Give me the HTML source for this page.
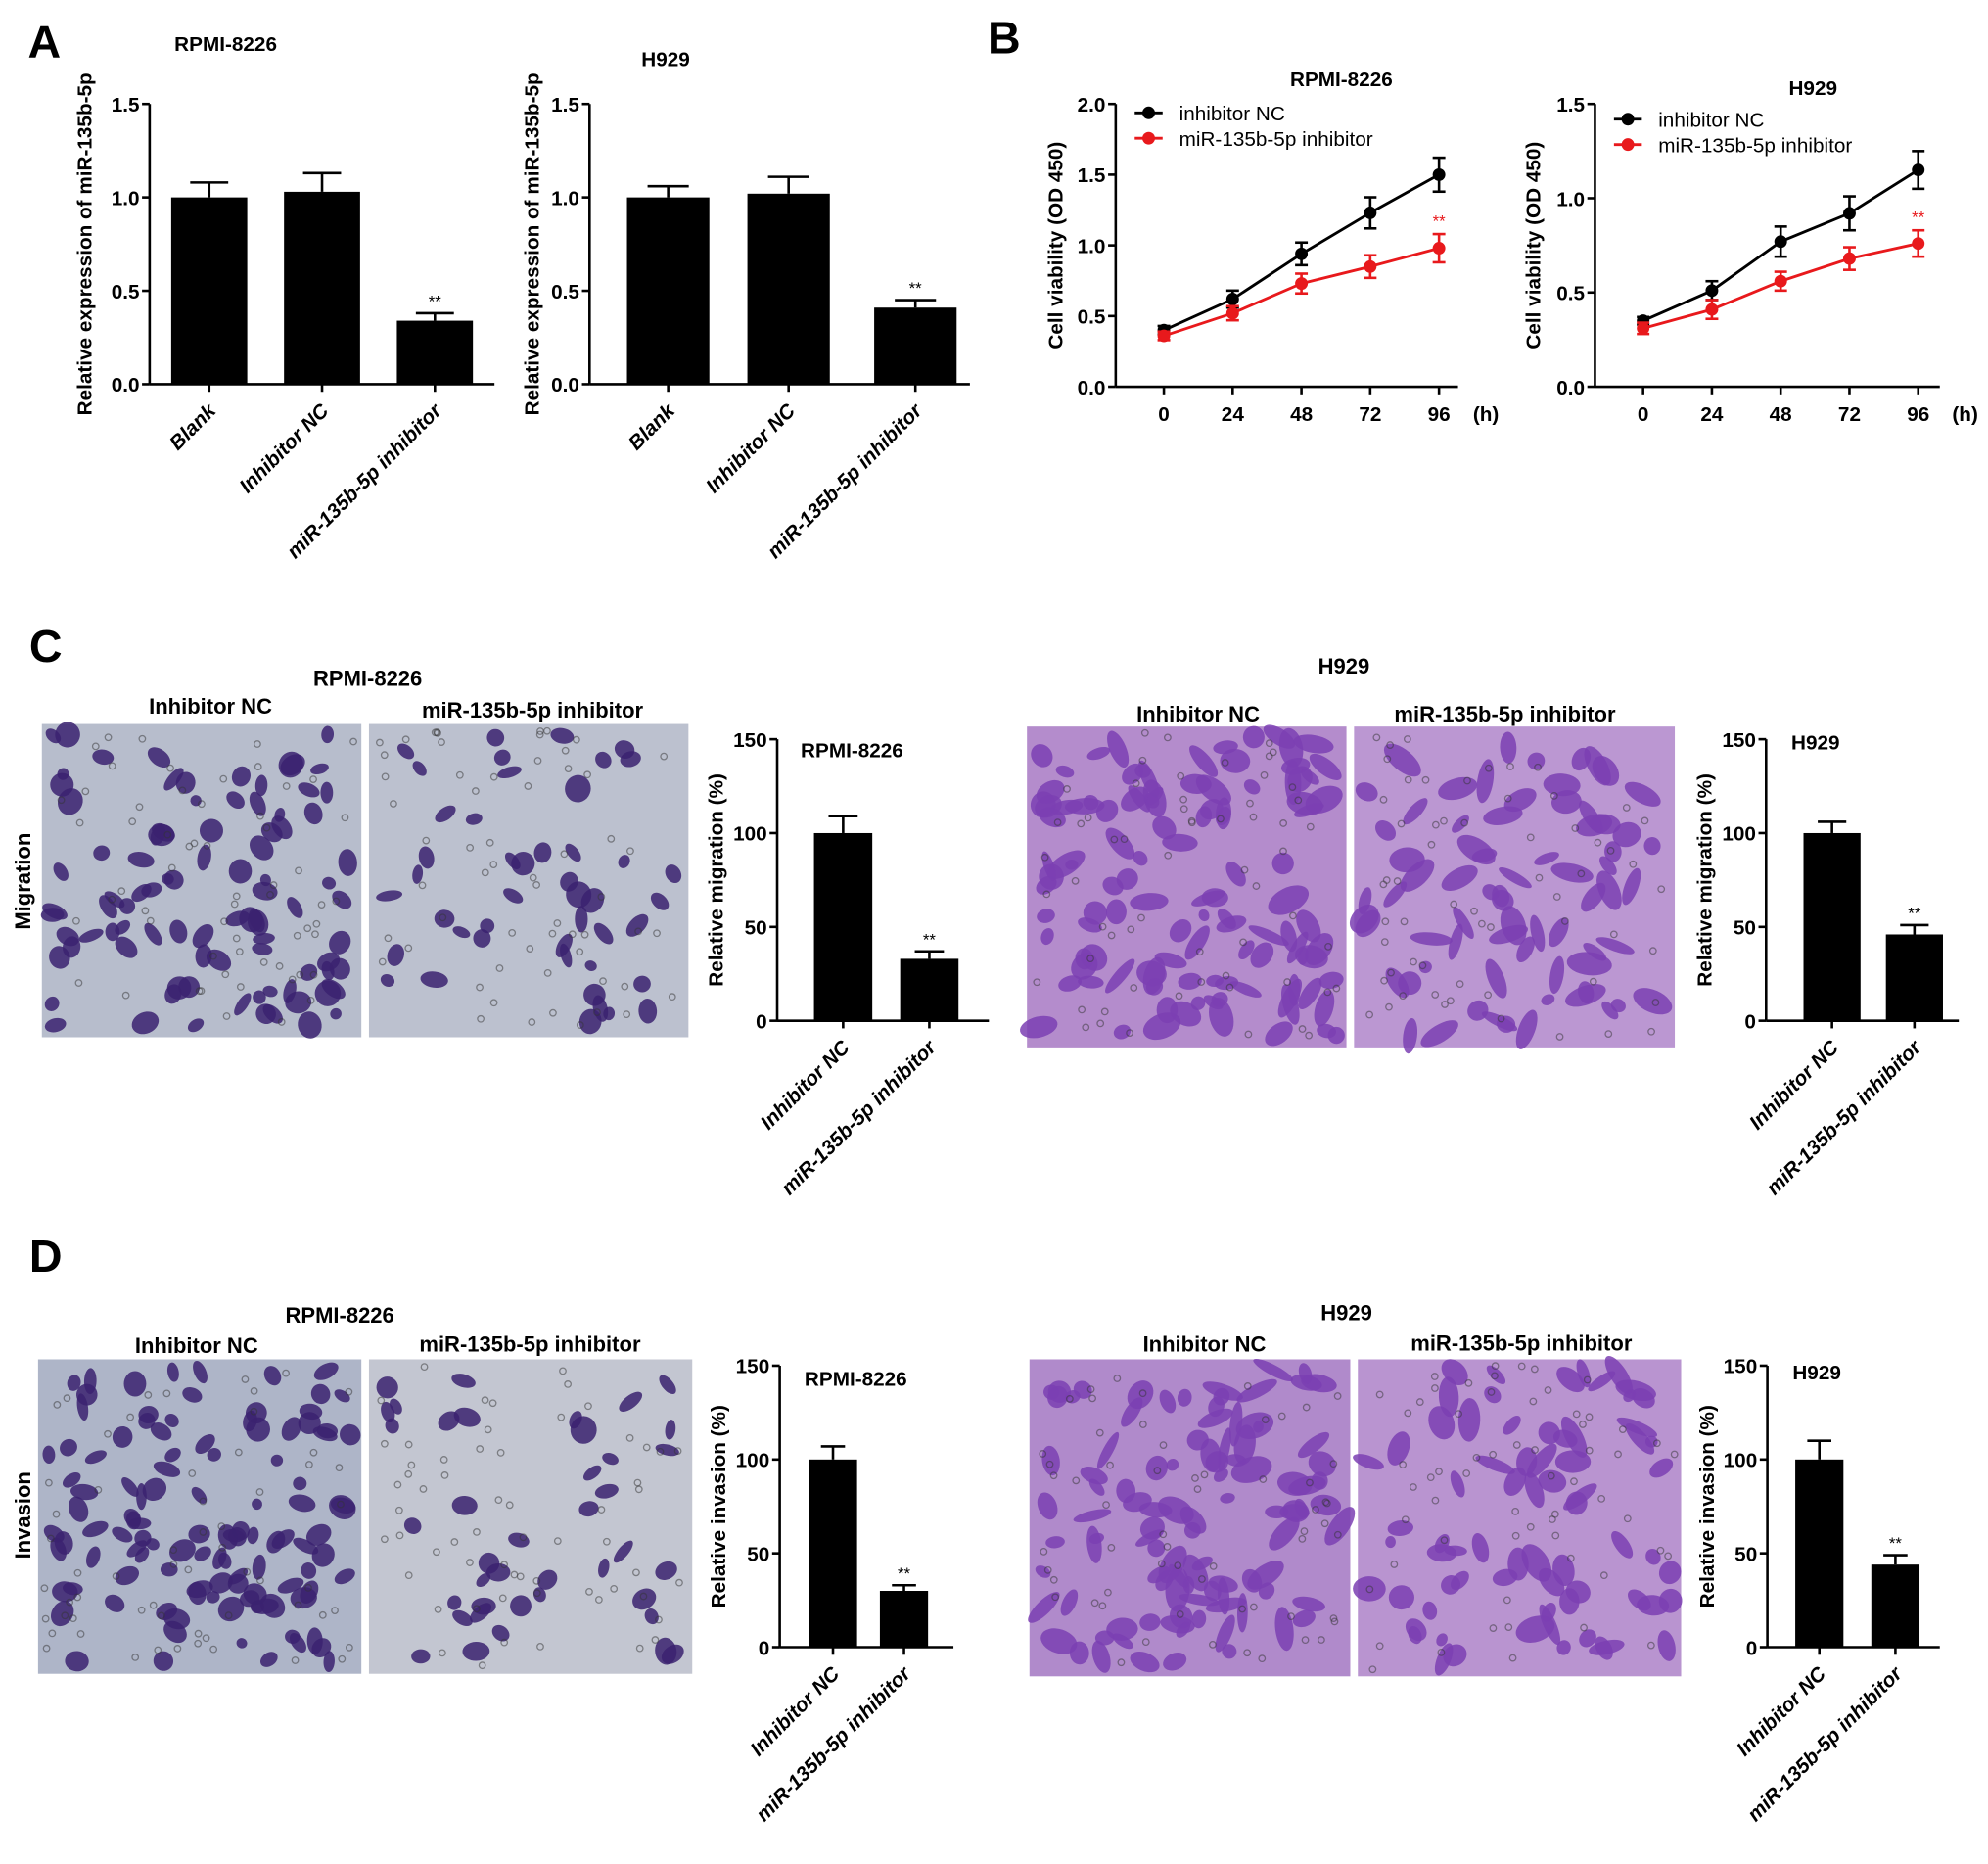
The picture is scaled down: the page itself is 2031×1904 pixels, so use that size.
<!DOCTYPE html>
<html><head><meta charset="utf-8"><style>
html,body{margin:0;padding:0;background:#fff;}
svg{display:block;font-family:"Liberation Sans",Arial,sans-serif;}
</style></head><body>
<svg id="fig" width="2031" height="1904" viewBox="0 0 1568 1470" xmlns="http://www.w3.org/2000/svg">
<g id="root"></g>
</svg>
<script>
// ---- data ----
const catsA = ["Blank","Inhibitor NC","miR-135b-5p inhibitor"];
const rpmiExpr = [1.0, 1.03, 0.34];
const rpmiExprErr = [0.08, 0.10, 0.04];
const h929Expr = [1.0, 1.02, 0.41];
const h929ExprErr = [0.06, 0.09, 0.04];
const ticksA = [0, 0.5, 1.0, 1.5];

const hours = [0, 24, 48, 72, 96];
const rpmiNC = [0.40, 0.62, 0.94, 1.23, 1.50];
const rpmiNCErr = [0.03, 0.06, 0.08, 0.11, 0.12];
const rpmiInh = [0.36, 0.52, 0.73, 0.85, 0.98];
const rpmiInhErr = [0.03, 0.05, 0.07, 0.08, 0.10];
const h929NC = [0.35, 0.51, 0.77, 0.92, 1.15];
const h929NCErr = [0.02, 0.05, 0.08, 0.09, 0.10];
const h929Inh = [0.31, 0.41, 0.56, 0.68, 0.76];
const h929InhErr = [0.03, 0.05, 0.05, 0.06, 0.07];
const ticksB1 = [0, 0.5, 1.0, 1.5, 2.0];
const ticksB2 = [0, 0.5, 1.0, 1.5];

const catsCD = ["Inhibitor NC","miR-135b-5p inhibitor"];
const migRpmi = [100, 33]; const migRpmiErr = [9, 4];
const migH929 = [100, 46]; const migH929Err = [6, 5];
const invRpmi = [100, 30]; const invRpmiErr = [7, 3];
const invH929 = [100, 44]; const invH929Err = [10, 5];
const ticksCD = [0, 50, 100, 150];

const NS = "http://www.w3.org/2000/svg";
const root = document.getElementById("root");
function mk(tag, attrs, parent, txt){
  const e = document.createElementNS(NS, tag);
  for (const k in attrs) e.setAttribute(k, attrs[k]);
  if (txt !== undefined) e.textContent = txt;
  (parent || root).appendChild(e);
  return e;
}
function txt(x,y,s,size,opts,parent){
  opts = opts||{};
  const t = mk("text",{x:x,y:y,"font-size":size,"font-weight":opts.w||"bold","text-anchor":opts.a||"middle",fill:opts.fill||"#000"},parent,s);
  if(opts.rot!==undefined) t.setAttribute("transform","rotate("+opts.rot+" "+x+" "+y+")");
  if(opts.italic) t.setAttribute("font-style","italic");
  
  
  return t;
}

// bar chart
function barChart(cfg){
  const g = mk("g",{});
  
  
  const yS = v => cfg.y0 - (v - 0) / (cfg.ymax) * (cfg.y0 - cfg.yTop);
  // y axis
  const ax = mk("line",{x1:cfg.ax,y1:yS(cfg.ymax),x2:cfg.ax,y2:cfg.y0,stroke:"#000","stroke-width":2},g);
   
  const xa = mk("line",{x1:cfg.ax,y1:cfg.y0,x2:cfg.axEnd,y2:cfg.y0,stroke:"#000","stroke-width":2},g);
   
  cfg.ticks.forEach(t=>{
    const y = yS(t);
    mk("line",{x1:cfg.ax-6,y1:y,x2:cfg.ax,y2:y,stroke:"#000","stroke-width":2},g);
    const tl = txt(cfg.ax-8,y+6,cfg.tickFmt(t),16,{a:"end",name:"y-tick-label"},g);
  });
  txt(cfg.ylx,(cfg.y0+yS(cfg.ymax))/2,cfg.ylabel,16,{rot:-90,name:"y-axis-title"},g);
  cfg.vals.forEach((v,i)=>{
    const cx = cfg.xs[i], w = cfg.bw;
    const r = mk("rect",{x:cx-w/2,y:yS(v),width:w,height:cfg.y0-yS(v),fill:"#000"},g);
     
    const ey = yS(v+cfg.err[i]);
    mk("line",{x1:cx,y1:yS(v),x2:cx,y2:ey,stroke:"#000","stroke-width":2},g);
    mk("line",{x1:cx-w*0.25,y1:ey,x2:cx+w*0.25,y2:ey,stroke:"#000","stroke-width":2},g);
    mk("line",{x1:cx,y1:cfg.y0,x2:cx,y2:cfg.y0+6,stroke:"#000","stroke-width":2},g);
    if(cfg.star && cfg.star[i]) txt(cx,ey-5,"**",13,{w:"normal",name:"significance-mark"},g);
    const lx = cx+6, ly = cfg.y0+22;
    txt(lx,ly,cfg.cats[i],16,{a:"end",rot:-45,italic:true,name:"x-tick-label"},g);
  });
  if(cfg.title) txt(cfg.title[0],cfg.title[1],cfg.title[2],16,{name:"chart-title"},g);
}

// line chart
function lineChart(cfg){
  const g = mk("g",{});
  
  
  const yS = v => cfg.y0 - v / cfg.ymax * (cfg.y0 - cfg.yTop);
  const xS = h => cfg.x0 + h/96 * (cfg.x96 - cfg.x0);
  mk("line",{x1:cfg.ax,y1:cfg.yTop,x2:cfg.ax,y2:cfg.y0,stroke:"#000","stroke-width":2},g);
  mk("line",{x1:cfg.ax,y1:cfg.y0,x2:cfg.axEnd,y2:cfg.y0,stroke:"#000","stroke-width":2},g);
  cfg.ticks.forEach(t=>{
    const y=yS(t);
    mk("line",{x1:cfg.ax-6,y1:y,x2:cfg.ax,y2:y,stroke:"#000","stroke-width":2},g);
    txt(cfg.ax-8,y+6,t.toFixed(1),16,{a:"end",name:"y-tick-label"},g);
  });
  hours.forEach(h=>{
    const x=xS(h);
    mk("line",{x1:x,y1:cfg.y0,x2:x,y2:cfg.y0+6,stroke:"#000","stroke-width":2},g);
    txt(x,cfg.y0+27,String(h),16,{name:"x-tick-label"},g);
  });
  txt(cfg.x96+37,cfg.y0+27,"(h)",16,{name:"x-unit"},g);
  txt(cfg.ylx,(cfg.y0+cfg.yTop)/2,"Cell viability (OD 450)",16,{rot:-90,name:"y-axis-title"},g);
  cfg.series.forEach((s,si)=>{
    const pts = s.v.map((v,i)=>xS(hours[i])+","+yS(v)).join(" ");
    const pl = mk("polyline",{points:pts,fill:"none",stroke:s.c,"stroke-width":2.2},g);
     
    s.v.forEach((v,i)=>{
      const x=xS(hours[i]);
      const a=yS(v+s.e[i]), b=yS(v-s.e[i]);
      mk("line",{x1:x,y1:a,x2:x,y2:b,stroke:s.c,"stroke-width":2},g);
      mk("line",{x1:x-5,y1:a,x2:x+5,y2:a,stroke:s.c,"stroke-width":2},g);
      mk("line",{x1:x-5,y1:b,x2:x+5,y2:b,stroke:s.c,"stroke-width":2},g);
      const c = mk("circle",{cx:x,cy:yS(v),r:5,fill:s.c},g);
       
    });
    if(s.star) txt(xS(96),yS(s.v[4]+s.e[4])-6,"**",13,{w:"normal",fill:s.c,name:"significance-mark"},g);
    // legend
    const ly = cfg.legY + si*20;
    mk("line",{x1:cfg.legX,y1:ly,x2:cfg.legX+22,y2:ly,stroke:s.c,"stroke-width":2.2},g);
    mk("circle",{cx:cfg.legX+11,cy:ly,r:5,fill:s.c},g);
    txt(cfg.legX+35,ly+6,s.n,16,{a:"start",w:"normal",name:"legend-entry"},g);
  });
  txt(cfg.title[0],cfg.title[1],cfg.title[2],16,{name:"chart-title"});
}

// micrograph placeholder
let seed = 7;
function rnd(){ seed = (seed*16807)%2147483647; return seed/2147483647; }
function micro(x,y,w,h,bg,blob,count,elong,name){
  const g = mk("g",{});
  
  
  mk("rect",{x:x,y:y,width:w,height:h,fill:bg},g);
  for(let i=0;i<count;i++){
    const cx=x+8+rnd()*(w-16), cy=y+8+rnd()*(h-16);
    const rx=4+rnd()*(elong?14:7), ry=4+rnd()*(elong?6:7);
    mk("ellipse",{cx:cx,cy:cy,rx:rx,ry:ry,fill:blob,opacity:0.85,transform:"rotate("+(rnd()*180)+" "+cx+" "+cy+")"},g);
  }
  for(let i=0;i<60;i++){
    const cx=x+5+rnd()*(w-10), cy=y+5+rnd()*(h-10);
    mk("circle",{cx:cx,cy:cy,r:2.5,fill:"none",stroke:"#333","stroke-width":1,opacity:0.5},g);
  }
}

// ---- Panel A ----
txt(35,45,"A",36,{name:"panel-label-a"});
barChart({name:"chart-a-rpmi",cats:catsA,vals:rpmiExpr,err:rpmiExprErr,ticks:ticksA,ymax:1.5,y0:303,yTop:82,ax:118,axEnd:390,xs:[165,254,343],bw:60,ylx:72,ylabel:"Relative expression of miR-135b-5p",tickFmt:t=>t.toFixed(1),star:[0,0,1],title:[178,40,"RPMI-8226"]});
barChart({name:"chart-a-h929",cats:catsA,vals:h929Expr,err:h929ExprErr,ticks:ticksA,ymax:1.5,y0:303,yTop:82,ax:465,axEnd:765,xs:[527,622,722],bw:65,ylx:425,ylabel:"Relative expression of miR-135b-5p",tickFmt:t=>t.toFixed(1),star:[0,0,1],title:[525,52,"H929"]});

// ---- Panel B ----
txt(792,42,"B",36,{name:"panel-label-b"});
lineChart({name:"chart-b-rpmi",ymax:2.0,y0:305,yTop:82,ax:880,axEnd:1150,x0:918,x96:1135,ylx:838,ticks:ticksB1,legX:895,legY:89,title:[1058,68,"RPMI-8226"],
  series:[{n:"inhibitor NC",c:"#000",v:rpmiNC,e:rpmiNCErr},{n:"miR-135b-5p inhibitor",c:"#e8191c",v:rpmiInh,e:rpmiInhErr,star:true}]});
lineChart({name:"chart-b-h929",ymax:1.5,y0:305,yTop:82,ax:1258,axEnd:1530,x0:1296,x96:1513,ylx:1215,ticks:ticksB2,legX:1273,legY:94,title:[1430,75,"H929"],
  series:[{n:"inhibitor NC",c:"#000",v:h929NC,e:h929NCErr},{n:"miR-135b-5p inhibitor",c:"#e8191c",v:h929Inh,e:h929InhErr,star:true}]});

// ---- Panel C ----
txt(36,522,"C",36,{name:"panel-label-c"});
txt(290,541,"RPMI-8226",17,{name:"section-title"});
txt(166,563,"Inhibitor NC",17,{name:"image-label"});
txt(420,566,"miR-135b-5p inhibitor",17,{name:"image-label"});
txt(24,695,"Migration",17,{rot:-90,name:"row-label"});
micro(33,571,252,247,"#b7bdcc","#3b2270",90,false,"micrograph-migration-rpmi-nc");
micro(291,571,252,247,"#bcc1cf","#3b2270",45,false,"micrograph-migration-rpmi-inh");
barChart({name:"chart-c-rpmi",cats:catsCD,vals:migRpmi,err:migRpmiErr,ticks:ticksCD,ymax:150,y0:805,yTop:583,ax:613,axEnd:780,xs:[665,733],bw:46,ylx:570,ylabel:"Relative migration (%)",tickFmt:t=>String(t),star:[0,1],title:[672,597,"RPMI-8226"]});
txt(1060,531,"H929",17,{name:"section-title"});
txt(945,569,"Inhibitor NC",17,{name:"image-label"});
txt(1187,569,"miR-135b-5p inhibitor",17,{name:"image-label"});
micro(810,573,252,253,"#b48ccc","#7b3fb3",110,true,"micrograph-migration-h929-nc");
micro(1068,573,253,253,"#bb97d2","#7b3fb3",70,true,"micrograph-migration-h929-inh");
barChart({name:"chart-c-h929",cats:catsCD,vals:migH929,err:migH929Err,ticks:ticksCD,ymax:150,y0:805,yTop:583,ax:1393,axEnd:1545,xs:[1445,1510],bw:45,ylx:1350,ylabel:"Relative migration (%)",tickFmt:t=>String(t),star:[0,1],title:[1432,591,"H929"]});

// ---- Panel D ----
txt(36,1003,"D",36,{name:"panel-label-d"});
txt(268,1043,"RPMI-8226",17,{name:"section-title"});
txt(155,1067,"Inhibitor NC",17,{name:"image-label"});
txt(418,1066,"miR-135b-5p inhibitor",17,{name:"image-label"});
txt(24,1195,"Invasion",17,{rot:-90,name:"row-label"});
micro(30,1072,255,248,"#aeb5c8","#3b2270",110,false,"micrograph-invasion-rpmi-nc");
micro(291,1072,255,248,"#c3c6d1","#3b2270",40,false,"micrograph-invasion-rpmi-inh");
barChart({name:"chart-d-rpmi",cats:catsCD,vals:invRpmi,err:invRpmiErr,ticks:ticksCD,ymax:150,y0:1299,yTop:1077,ax:615,axEnd:752,xs:[657,713],bw:38,ylx:572,ylabel:"Relative invasion (%)",tickFmt:t=>String(t),star:[0,1],title:[675,1093,"RPMI-8226"]});
txt(1062,1041,"H929",17,{name:"section-title"});
txt(950,1066,"Inhibitor NC",17,{name:"image-label"});
txt(1200,1065,"miR-135b-5p inhibitor",17,{name:"image-label"});
micro(812,1072,253,250,"#b08acb","#7b3fb3",100,true,"micrograph-invasion-h929-nc");
micro(1071,1072,255,250,"#b994d0","#7b3fb3",70,true,"micrograph-invasion-h929-inh");
barChart({name:"chart-d-h929",cats:catsCD,vals:invH929,err:invH929Err,ticks:ticksCD,ymax:150,y0:1299,yTop:1077,ax:1394,axEnd:1530,xs:[1435,1495],bw:38,ylx:1352,ylabel:"Relative invasion (%)",tickFmt:t=>String(t),star:[0,1],title:[1433,1088,"H929"]});
</script>
</body></html>
